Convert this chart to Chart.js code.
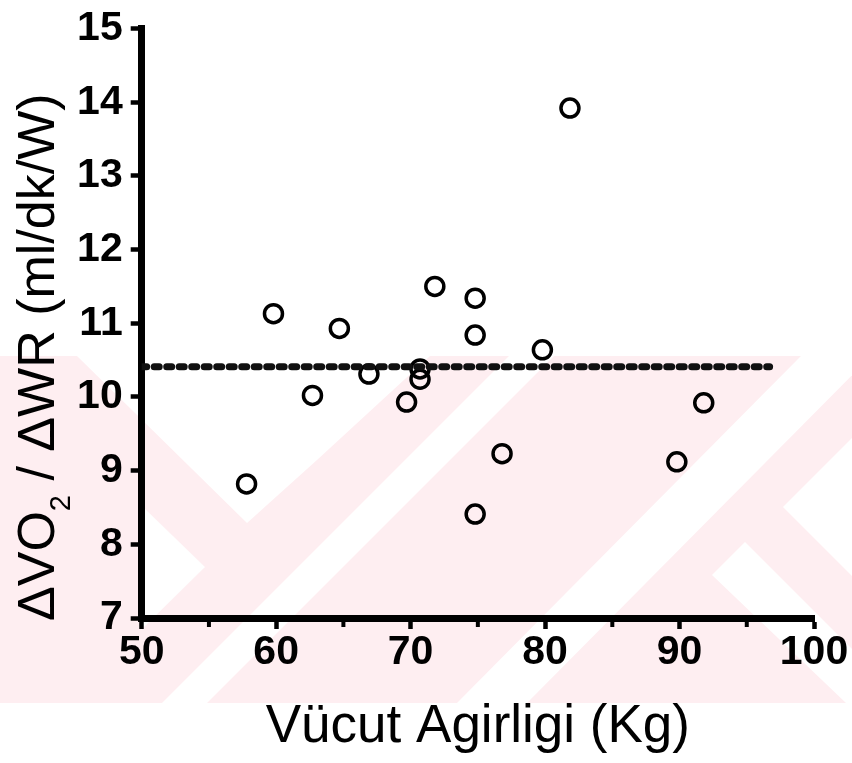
<!DOCTYPE html>
<html>
<head>
<meta charset="utf-8">
<title>VO2/WR - Vücut Agirligi</title>
<script src="https://cdn.jsdelivr.net/npm/chart.js@4.4.1/dist/chart.umd.min.js"></script>
<style>
    html, body { margin: 0; padding: 0; background: #fff; }
    #wrap { position: relative; width: 852px; height: 763px; overflow: hidden; }
    #wm, #chart { position: absolute; left: 0; top: 0; }
</style>
</head>
<body>
<div id="wrap">
    <!-- faint thesis watermark behind the plot -->
    <svg id="wm" width="852" height="763">
        <defs><clipPath id="band"><rect x="0" y="356" width="852" height="347"/></clipPath></defs>
        <g clip-path="url(#band)">
            <rect x="0" y="356" width="852" height="347" fill="#feeef1"/>
            <g fill="#fff">
                <polygon points="77,356 430,356 317,460 247,523"/>
                <polygon points="141,505 205,567 141,630"/>
                <polygon points="509,356 554,356 207,703 162,703"/>
                <polygon points="801,356 871,356 527,703 457,703"/>
                <polygon points="712,575 745,542 906,703 846,703"/>
                <polygon points="783,507 852,438 852,576"/>
            </g>
        </g>
    </svg>
    <canvas id="chart" width="852" height="763"></canvas>
</div>
<script>
const weights = [57.8, 59.8, 62.7, 64.7, 66.9, 69.7, 70.7, 70.7, 71.8, 74.8, 74.8, 74.8, 76.8, 79.8, 81.85, 89.8, 91.8];
const ratios = [8.82, 11.13, 10.02, 10.93, 10.31, 9.93, 10.38, 10.24, 11.5, 11.34, 10.84, 8.41, 9.23, 10.64, 13.92, 9.12, 9.92];
const meanX = [50, 96.7];
const meanY = [10.41, 10.41];
const xTicks = [50, 60, 70, 80, 90, 100];
const xMinorTicks = [55, 65, 75, 85, 95];
const yTicks = [7, 8, 9, 10, 11, 12, 13, 14, 15];
const yTitleParts = ['\u0394VO', '2', ' / \u0394WR (ml/dk/W)'];
const xTitle = 'Vücut Agirligi (Kg)';

const FONT = '"Liberation Sans", Arial, Helvetica, sans-serif';

// short ticks between the labelled ones on the x axis
const minorTicks = {
    id: 'minorTicks',
    afterDraw(chart) {
        const ctx = chart.ctx;
        const sx = chart.scales.x;
        const bottom = chart.chartArea.bottom;
        ctx.save();
        ctx.strokeStyle = '#000';
        ctx.lineWidth = 4;
        xMinorTicks.forEach(v => {
            const px = sx.getPixelForValue(v);
            ctx.beginPath();
            ctx.moveTo(px, bottom);
            ctx.lineTo(px, bottom + 9);
            ctx.stroke();
        });
        ctx.restore();
    }
};

// y title with a real subscript
const yTitle = {
    id: 'yTitle',
    afterDraw(chart) {
        const ctx = chart.ctx;
        const a = chart.chartArea;
        const big = '52px ' + FONT;
        const small = '29px ' + FONT;
        const fonts = [big, small, big];
        const shifts = [0, 16, 0];
        ctx.save();
        ctx.fillStyle = '#000';
        ctx.textBaseline = 'alphabetic';
        let total = 0;
        const widths = yTitleParts.map((t, i) => {
            ctx.font = fonts[i];
            const w = ctx.measureText(t).width;
            total += w;
            return w;
        });
        ctx.translate(54, (a.top + a.bottom) / 2 + 34);
        ctx.rotate(-Math.PI / 2);
        let x = -total / 2;
        yTitleParts.forEach((t, i) => {
            ctx.font = fonts[i];
            ctx.fillText(t, x, shifts[i]);
            x += widths[i];
        });
        ctx.restore();
    }
};

function createChart() {
    const ctx = document.getElementById('chart').getContext('2d');
    new Chart(ctx, {
        type: 'scatter',
        data: {
            datasets: [
                {
                    type: 'line',
                    data: meanX.map((x, i) => ({ x: x, y: meanY[i] })),
                    borderColor: '#111',
                    borderWidth: 7,
                    borderDash: [5, 7.5],
                    borderCapStyle: 'round',
                    pointRadius: 0,
                    fill: false
                },
                {
                    data: weights.map((x, i) => ({ x: x, y: ratios[i] })),
                    pointStyle: 'circle',
                    pointRadius: 9,
                    pointBorderWidth: 3.5,
                    pointBorderColor: '#000',
                    pointBackgroundColor: 'rgba(0,0,0,0)',
                    showLine: false
                }
            ]
        },
        options: {
            responsive: false,
            animation: false,
            devicePixelRatio: 1,
            layout: { padding: { top: 23, right: 38, left: 0, bottom: 0 } },
            plugins: {
                legend: { display: false },
                tooltip: { enabled: false }
            },
            scales: {
                x: {
                    type: 'linear',
                    min: 50,
                    max: 100,
                    afterBuildTicks: s => { s.ticks = xTicks.map(v => ({ value: v })); },
                    afterFit: s => { s.height = 145; },
                    border: { display: true, color: '#000', width: 7 },
                    grid: { drawOnChartArea: false, drawTicks: true, tickLength: 11, tickWidth: 4.5, tickColor: '#000', color: '#000' },
                    ticks: {
                        color: '#000',
                        padding: 3,
                        maxRotation: 0,
                        autoSkip: false,
                        font: { family: FONT, size: 41, weight: 'bold', lineHeight: 1 }
                    },
                    title: {
                        display: true,
                        text: xTitle,
                        color: '#000',
                        font: { family: FONT, size: 53, lineHeight: 1.2 },
                        padding: { top: 0, bottom: 4 }
                    }
                },
                y: {
                    type: 'linear',
                    min: 7,
                    max: 15,
                    afterBuildTicks: s => { s.ticks = yTicks.map(v => ({ value: v })); },
                    afterFit: s => { s.width = 141.7; },
                    border: { display: true, color: '#000', width: 7 },
                    grid: { drawOnChartArea: false, drawTicks: true, tickLength: 11, tickWidth: 4.5, tickColor: '#000', color: '#000' },
                    ticks: {
                        color: '#000',
                        padding: 8,
                        autoSkip: false,
                        font: { family: FONT, size: 41, weight: 'bold', lineHeight: 1 }
                    }
                }
            }
        },
        plugins: [minorTicks, yTitle]
    });
}

window.onload = createChart;
</script>
</body>
</html>
